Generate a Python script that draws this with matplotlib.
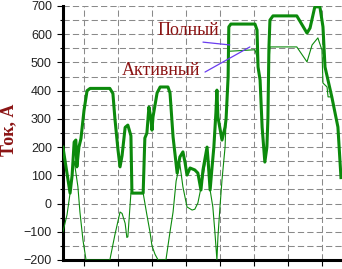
import matplotlib
matplotlib.use("Agg")
import matplotlib.pyplot as plt
from matplotlib.ticker import MultipleLocator

# ── Data ──────────────────────────────────────────────────────────────────────
# time, arbitrary units (grid every 10)
t_full = [3.8, 4.7, 5.9, 6.5, 7.1, 7.6, 7.9, 8.5, 9.1, 10.0,
          10.9, 11.8, 17.6, 18.5, 19.1, 20.0, 20.6, 21.2, 22.1, 22.9,
          23.8, 24.1, 27.4, 27.9, 28.5, 29.1, 29.7, 30.0, 30.3, 31.5,
          32.4, 34.7, 35.3, 36.2, 37.4, 38.2, 39.1, 39.7, 40.3, 41.2,
          42.6, 43.5, 44.4, 45.0, 46.2, 46.5, 47.1, 47.6, 48.2, 48.8,
          49.1, 49.4, 50.6, 51.5, 51.8, 52.4, 52.6, 53.2, 60.3, 60.9,
          61.2, 61.8, 62.4, 63.2, 63.8, 64.1, 64.4, 64.7, 65.6, 72.6,
          75.6, 76.5, 77.9, 79.4, 80.3, 80.9, 82.9, 84.7, 85.6]
i_full = [200, 130, 37, 100, 218, 225, 130, 200, 230, 330,
          400, 408, 408, 390, 300, 190, 130, 170, 270, 278,
          240, 37, 37, 232, 250, 342, 300, 260, 307, 392,
          413, 413, 392, 236, 108, 165, 183, 147, 101, 126,
          119, 108, 48, 119, 200, 154, 48, 119, 200, 321,
          402, 307, 225, 271, 300, 450, 626, 636, 636, 615,
          484, 438, 271, 147, 200, 300, 550, 650, 665, 665,
          604, 622, 697, 697, 626, 484, 378, 271, 92]

t_act = [3.8, 5.0, 5.9, 6.5, 7.1, 7.6, 8.2, 8.8, 9.7, 10.6,
         17.6, 19.1, 20.6, 21.2, 22.1, 22.6, 22.9, 23.8, 27.4, 28.5,
         29.4, 30.0, 30.9, 31.8, 34.1, 35.3, 36.2, 37.1, 38.2, 39.1,
         40.3, 41.8, 42.6, 43.5, 44.7, 46.2, 47.1, 47.9, 48.5, 49.1,
         49.4, 50.0, 50.6, 51.5, 51.8, 52.4, 52.6, 53.2, 60.3, 60.9,
         61.2, 61.8, 62.4, 63.2, 63.8, 64.1, 64.4, 64.7, 72.6, 75.6,
         77.1, 78.8, 80.0, 80.3, 81.5, 81.8, 82.9, 84.7, 85.6]
i_act = [-100, -40, 37, 100, 150, 110, 60, -30, -130, -200,
         -200, -110, -30, -35, -70, -120, -118, 37, 37, -40,
         -100, -150, -180, -200, -200, -100, -30, 80, 140, 59,
         -12, -23, -20, 2, 73, 180, 48, -12, -100, -200,
         -118, -12, 84, 200, 300, 450, 540, 540, 545, 519,
         480, 438, 271, 147, 200, 300, 500, 555, 555, 502,
         562, 587, 544, 427, 413, 378, 378, 271, 92]

GREEN = "#0c8a0c"
LABEL_RED = "#8b1414"
ARROW = "#6a3df0"

fig = plt.figure(figsize=(3.42, 2.69), dpi=100)
ax = fig.add_axes([63 / 342, 9 / 269, 279 / 342, 254 / 269])

ax.plot(t_act, i_act, color=GREEN, lw=0.8, zorder=3)
ax.plot(t_full, i_full, color=GREEN, lw=2.2, zorder=4)

ax.set_xlim(3.82, 85.9)
ax.set_ylim(-200, 700)

ax.xaxis.set_major_locator(MultipleLocator(10))
ax.yaxis.set_major_locator(MultipleLocator(100))
ax.yaxis.set_minor_locator(MultipleLocator(50))
ax.set_xticklabels([])
ax.grid(True, which="both", color="#8a8a8a", lw=0.75, ls=(0, (6, 3)))
ax.tick_params(axis="x", which="major", length=4, width=0.8, direction="out")
ax.tick_params(axis="y", which="major", length=4, width=0.8, pad=4,
               labelsize=9, labelcolor="#222222")
ax.tick_params(axis="y", which="minor", length=2, width=0.8)
for lab in ax.get_yticklabels():
    lab.set_family("Liberation Sans")

for side in ("top", "right"):
    ax.spines[side].set_visible(False)
for side in ("left", "bottom"):
    ax.spines[side].set_linewidth(2.2)

# labels and leader lines
ax.text(40.6, 612, "Полный", ha="center", va="center", color=LABEL_RED,
        fontsize=13, family="Liberation Serif", zorder=6)
ax.text(32.6, 470, "Активный", ha="center", va="center", color=LABEL_RED,
        fontsize=13, family="Liberation Serif", zorder=6)
ax.annotate("", xy=(52.9, 562), xytext=(45.0, 572),
            arrowprops=dict(arrowstyle="-", color=ARROW, lw=0.9,
                            shrinkA=0, shrinkB=0), zorder=5)
ax.annotate("", xy=(58.8, 555), xytext=(45.6, 466),
            arrowprops=dict(arrowstyle="-", color=ARROW, lw=0.9,
                            shrinkA=0, shrinkB=0), zorder=5)

fig.text(9 / 342, 1 - 130 / 269, "Ток, А", rotation=90, ha="center",
         va="center", color=LABEL_RED, fontsize=13, fontweight="bold",
         family="Liberation Serif")

fig.savefig("out.png", dpi=100)
